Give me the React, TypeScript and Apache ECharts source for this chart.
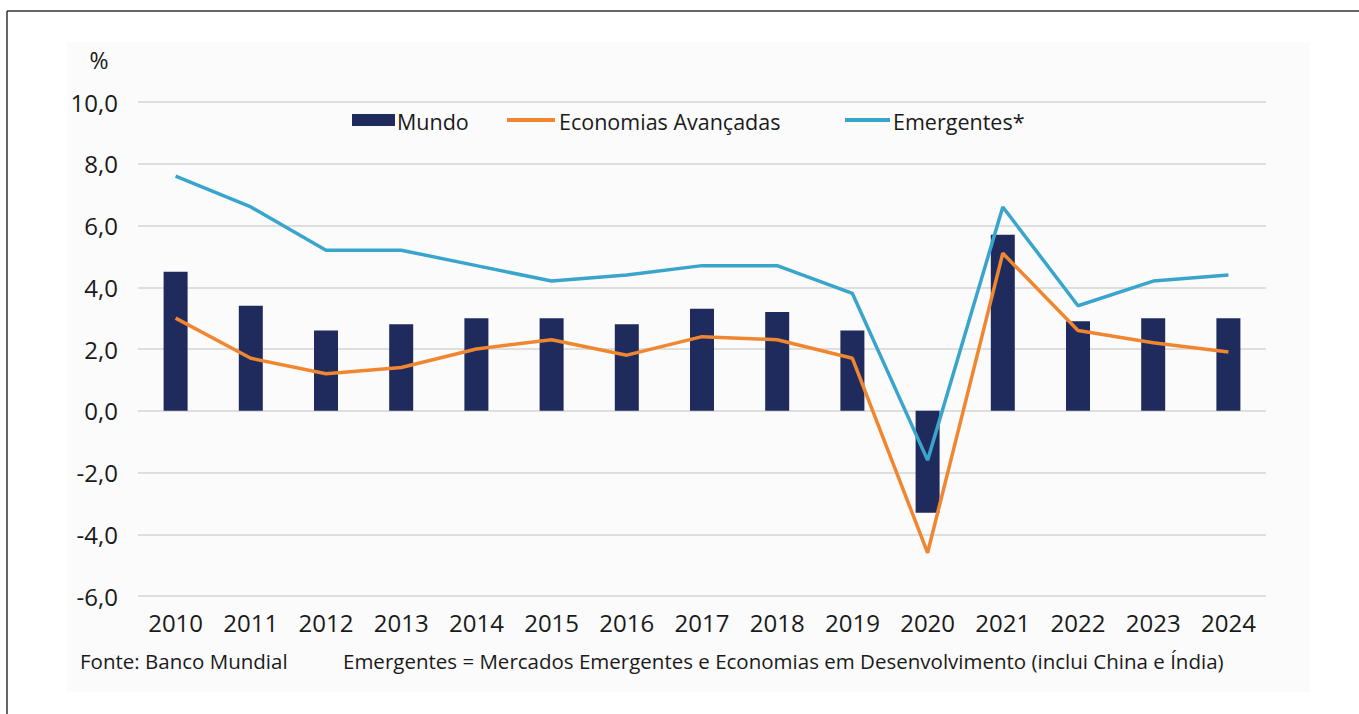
import React, { useEffect, useRef } from "react";
import * as echarts from "echarts";

const years = ["2010","2011","2012","2013","2014","2015","2016","2017","2018","2019","2020","2021","2022","2023","2024"];
const mundo = [4.5, 3.4, 2.6, 2.8, 3.0, 3.0, 2.8, 3.3, 3.2, 2.6, -3.3, 5.7, 2.9, 3.0, 3.0];
const avancadas = [3.0, 1.7, 1.2, 1.4, 2.0, 2.3, 1.8, 2.4, 2.3, 1.7, -4.6, 5.1, 2.6, 2.2, 1.9];
const emergentes = [7.6, 6.6, 5.2, 5.2, 4.7, 4.2, 4.4, 4.7, 4.7, 3.8, -1.6, 6.6, 3.4, 4.2, 4.4];

const seriesNames = ["Mundo", "Economias Avançadas", "Emergentes*"];
const footLeft = "Fonte: Banco Mundial";
const footRight = "Emergentes = Mercados Emergentes e Economias em Desenvolvimento (inclui China e Índia)";

const NAVY = "#1f2b5d";
const ORANGE = "#f08730";
const BLUE = "#3aa5cc";
const FONT = "Open Sans";
const TXT = "#1a1a1a";

export default function App() {
  const ref = useRef<HTMLDivElement>(null);
  useEffect(() => {
    if (!ref.current) return;
    const chart = echarts.init(ref.current, undefined, { renderer: "svg" });
    chart.setOption({
      animation: false,
      backgroundColor: "#ffffff",
      textStyle: { fontFamily: FONT },
      grid: { left: 138, right: 93, top: 102, bottom: 118, containLabel: false },
      graphic: [
        { type: "rect", silent: true, z: -10, shape: { x: 67, y: 42, width: 1243, height: 650 }, style: { fill: "#fbfbfb" } },
        { type: "line", shape: { x1: 7, y1: 11, x2: 1359, y2: 11 }, style: { stroke: "#333", lineWidth: 1.5 } },
        { type: "line", shape: { x1: 7, y1: 11, x2: 7, y2: 714 }, style: { stroke: "#333", lineWidth: 1.5 } },
        { type: "text", x: 99, y: 60, style: { text: "%", fontSize: 23, fill: TXT, fontFamily: FONT, align: "center", verticalAlign: "middle" } },
        { type: "rect", shape: { x: 352, y: 114, width: 43, height: 12 }, style: { fill: NAVY } },
        { type: "text", x: 397, y: 121, style: { text: seriesNames[0], fontSize: 21.5, fill: TXT, fontFamily: FONT, verticalAlign: "middle" } },
        { type: "line", shape: { x1: 507, y1: 120, x2: 555, y2: 120 }, style: { stroke: ORANGE, lineWidth: 4 } },
        { type: "text", x: 559, y: 121, style: { text: seriesNames[1], fontSize: 21.5, fill: TXT, fontFamily: FONT, verticalAlign: "middle" } },
        { type: "line", shape: { x1: 845, y1: 120, x2: 890, y2: 120 }, style: { stroke: BLUE, lineWidth: 4 } },
        { type: "text", x: 893, y: 121, style: { text: seriesNames[2], fontSize: 21.5, fill: TXT, fontFamily: FONT, verticalAlign: "middle" } },
        { type: "text", x: 80, y: 661, style: { text: footLeft, fontSize: 20.5, fill: TXT, fontFamily: FONT, verticalAlign: "middle" } },
        { type: "text", x: 343, y: 661, style: { text: footRight, fontSize: 20.5, fill: TXT, fontFamily: FONT, verticalAlign: "middle" } },
      ],
      xAxis: {
        type: "category",
        data: years,
        axisLine: { show: false },
        axisTick: { show: false },
        axisLabel: { fontSize: 24, color: TXT, margin: 14, fontFamily: FONT },
      },
      yAxis: {
        type: "value",
        min: -6,
        max: 10,
        interval: 2,
        axisLine: { show: false },
        axisTick: { show: false },
        splitLine: { lineStyle: { color: "#d4d4d4", width: 1.5 } },
        axisLabel: {
          fontSize: 24,
          color: TXT,
          margin: 20,
          fontFamily: FONT,
          formatter: (v: number) => v.toFixed(1).replace(".", ","),
        },
      },
      series: [
        { name: seriesNames[0], type: "bar", data: mundo, barWidth: 24, itemStyle: { color: NAVY }, z: 1 },
        { name: seriesNames[1], type: "line", data: avancadas, symbol: "none", lineStyle: { color: ORANGE, width: 3.5 }, z: 3 },
        { name: seriesNames[2], type: "line", data: emergentes, symbol: "none", lineStyle: { color: BLUE, width: 3.5 }, z: 2 },
      ],
    });
    return () => chart.dispose();
  }, []);
  return <div ref={ref} style={{ position: "fixed", left: 0, top: 0, width: 1359, height: 714 }} />;
}
